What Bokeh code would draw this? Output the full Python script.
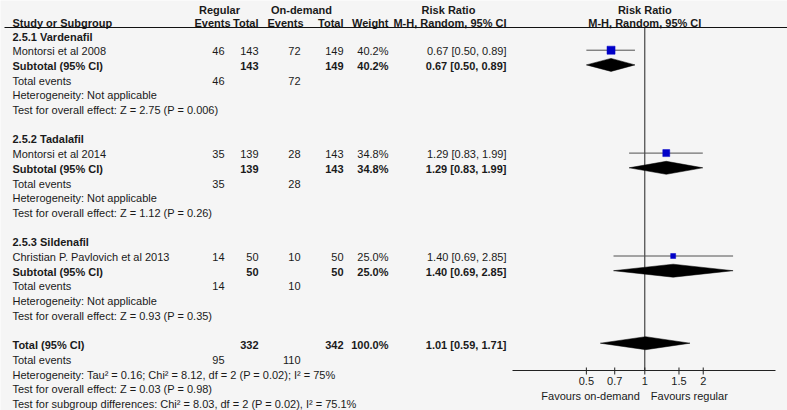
import math
from bokeh.plotting import figure
from bokeh.models import Range1d, LogScale
from bokeh.core.properties import value
from bokeh.embed import file_html
from bokeh.resources import INLINE

# ---------------- data ----------------
subgroups = ["2.5.1 Vardenafil", "2.5.2 Tadalafil", "2.5.3 Sildenafil"]
studies = ["Montorsi et al 2008", "Montorsi et al 2014", "Christian P. Pavlovich et al 2013"]
reg_events = [46, 35, 14]
reg_total = [143, 139, 50]
od_events = [72, 28, 10]
od_total = [149, 143, 50]
weights = [40.2, 34.8, 25.0]
rr = [0.67, 1.29, 1.40]
rr_lo = [0.50, 0.83, 0.69]
rr_hi = [0.89, 1.99, 2.85]
sub_tests = ["Z = 2.75 (P = 0.006)", "Z = 1.12 (P = 0.26)", "Z = 0.93 (P = 0.35)"]

total_reg_n = 332
total_od_n = 342
total_weight = 100.0
total_rr = 1.01
total_lo = 0.59
total_hi = 1.71
total_reg_events = 95
total_od_events = 110
total_het = "Tau\u00b2 = 0.16; Chi\u00b2 = 8.12, df = 2 (P = 0.02); I\u00b2 = 75%"
total_test = "Z = 0.03 (P = 0.98)"
subgroup_diff = "Chi\u00b2 = 8.03, df = 2 (P = 0.02), I\u00b2 = 75.1%"

tick_values = [0.5, 0.7, 1, 1.5, 2]
tick_labels = ["0.5", "0.7", "1", "1.5", "2"]
favours_left = "Favours on-demand"
favours_right = "Favours regular"

# ---------------- layout ----------------
BG = "#f5f5f5"
TXT = "#1a1a1a"
FONT = value("Liberation Sans")
FS = "11px"

W, H = 787, 410
X0, X1 = 0, 787
Y0, Y1 = 0, 410
ROW0, ROWH = 36.0, 14.7
X_ONE, PX_LN = 644.3, 84.3   # position of RR = 1 and pixels per ln unit


def ry(r):
    return ROW0 + ROWH * r


p = figure(width=W, height=H, x_range=Range1d(X0, X1), y_range=Range1d(Y1, Y0),
           x_axis_type=None, y_axis_type=None, min_border=0,
           output_backend="svg", toolbar_location=None,
           background_fill_color=BG, border_fill_color=BG, outline_line_color=None)
p.extra_x_ranges = {"rr": Range1d(start=math.exp((X0 - X_ONE) / PX_LN),
                                  end=math.exp((X1 - X_ONE) / PX_LN))}
p.extra_x_scales = {"rr": LogScale()}


def t(x, y, s, align="left", bold=False, rng="default", xoff=0):
    p.text(x=[x], y=[y], text=[s], text_align=align, text_baseline="middle",
           text_font=FONT, text_font_size=FS,
           text_font_style="bold" if bold else "normal",
           text_color=TXT, x_range_name=rng, x_offset=xoff)


# columns (right edges)
C_LABEL = 12
C_RE, C_RT, C_OE, C_OT, C_W, C_RR = 224, 258, 300, 343, 388, 506

# headers
HY1, HY2, HLINE = 9, 22, 27
t(219, HY1, "Regular", "center", True)
t(301, HY1, "On-demand", "center", True)
t(448, HY1, "Risk Ratio", "center", True)
t(1, HY1, "Risk Ratio", "center", True, "rr")
t(C_LABEL, HY2, "Study or Subgroup", "left", True)
t(230, HY2, "Events", "right", True)
t(C_RT, HY2, "Total", "right", True)
t(303, HY2, "Events", "right", True)
t(C_OT, HY2, "Total", "right", True)
t(C_W, HY2, "Weight", "right", True)
t(C_RR, HY2, "M-H, Random, 95% CI", "right", True)
t(1, HY2, "M-H, Random, 95% CI", "center", True, "rr")
p.segment(x0=[4], y0=[HLINE], x1=[X1], y1=[HLINE], line_color="#111111", line_width=1)


def ci_text(e, lo, hi):
    return f"{e:.2f} [{lo:.2f}, {hi:.2f}]"


sq_x, sq_y, sq_s = [], [], []
ci_x0, ci_x1, ci_y = [], [], []
dia_xs, dia_ys = [], []
DH = 6.5

for g in range(len(subgroups)):
    b = 7 * g
    t(C_LABEL, ry(b), subgroups[g], "left", True)
    # study row
    y = ry(b + 1)
    t(C_LABEL, y, studies[g])
    t(C_RE, y, str(reg_events[g]), "right")
    t(C_RT, y, str(reg_total[g]), "right")
    t(C_OE, y, str(od_events[g]), "right")
    t(C_OT, y, str(od_total[g]), "right")
    t(C_W, y, f"{weights[g]:.1f}%", "right")
    t(C_RR, y, ci_text(rr[g], rr_lo[g], rr_hi[g]), "right")
    sq_x.append(rr[g]); sq_y.append(y - 1); sq_s.append(weights[g] * 0.2)
    ci_x0.append(rr_lo[g]); ci_x1.append(rr_hi[g]); ci_y.append(y - 1)
    # subtotal row
    y = ry(b + 2)
    t(C_LABEL, y, "Subtotal (95% CI)", "left", True)
    t(C_RT, y, str(reg_total[g]), "right", True)
    t(C_OT, y, str(od_total[g]), "right", True)
    t(C_W, y, f"{weights[g]:.1f}%", "right", True)
    t(C_RR, y, ci_text(rr[g], rr_lo[g], rr_hi[g]), "right", True)
    dia_xs.append([rr_lo[g], rr[g], rr_hi[g], rr[g]])
    dia_ys.append([y - 1, y - 1 - DH, y - 1, y - 1 + DH])
    # total events
    y = ry(b + 3)
    t(C_LABEL, y, "Total events")
    t(C_RE, y, str(reg_events[g]), "right")
    t(C_OE, y, str(od_events[g]), "right")
    t(C_LABEL, ry(b + 4), "Heterogeneity: Not applicable")
    t(C_LABEL, ry(b + 5), "Test for overall effect: " + sub_tests[g])

# overall
y = ry(21)
t(C_LABEL, y, "Total (95% CI)", "left", True)
t(C_RT, y, str(total_reg_n), "right", True)
t(C_OT, y, str(total_od_n), "right", True)
t(C_W, y, f"{total_weight:.1f}%", "right", True)
t(C_RR, y, ci_text(total_rr, total_lo, total_hi), "right", True)
dia_xs.append([total_lo, total_rr, total_hi, total_rr])
dia_ys.append([y - 2, y - 2 - DH, y - 2, y - 2 + DH])
y = ry(22)
t(C_LABEL, y, "Total events")
t(C_RE, y, str(total_reg_events), "right")
t(C_OE, y, str(total_od_events), "right")
t(C_LABEL, ry(23), "Heterogeneity: " + total_het)
t(C_LABEL, ry(24), "Test for overall effect: " + total_test)
t(C_LABEL, ry(25), "Test for subgroup differences: " + subgroup_diff)

# forest plot
AXIS_Y = 370
p.segment(x0=[1], y0=[HLINE], x1=[1], y1=[AXIS_Y], x_range_name="rr",
          line_color="#222222", line_width=1)
p.segment(x0=ci_x0, y0=ci_y, x1=ci_x1, y1=ci_y, x_range_name="rr",
          line_color="#505050", line_width=1)
p.scatter(x=sq_x, y=sq_y, size=sq_s, marker="square", x_range_name="rr",
          fill_color="#0000c8", line_color="#0000c8", line_width=0.5)
p.patches(xs=dia_xs, ys=dia_ys, x_range_name="rr",
          fill_color="#000000", line_color="#000000", line_width=0.5)

# axis drawn inside the plot
p.segment(x0=[512], y0=[AXIS_Y], x1=[775], y1=[AXIS_Y], line_color="#222222", line_width=1)
p.segment(x0=tick_values, y0=[AXIS_Y - 3] * len(tick_values),
          x1=tick_values, y1=[AXIS_Y + 4] * len(tick_values),
          x_range_name="rr", line_color="#222222", line_width=1)
p.text(x=tick_values, y=[380] * len(tick_values), text=tick_labels,
       text_align="center", text_baseline="middle", text_font=FONT,
       text_font_size=FS, text_color=TXT, x_range_name="rr")
t(1, 395, favours_left, "right", False, "rr", -5)
t(1, 395, favours_right, "left", False, "rr", 6)

html = file_html(p, INLINE)
html = html.replace("<body>", '<body style="background:%s">' % BG, 1)
open("out.html", "w").write(html)
